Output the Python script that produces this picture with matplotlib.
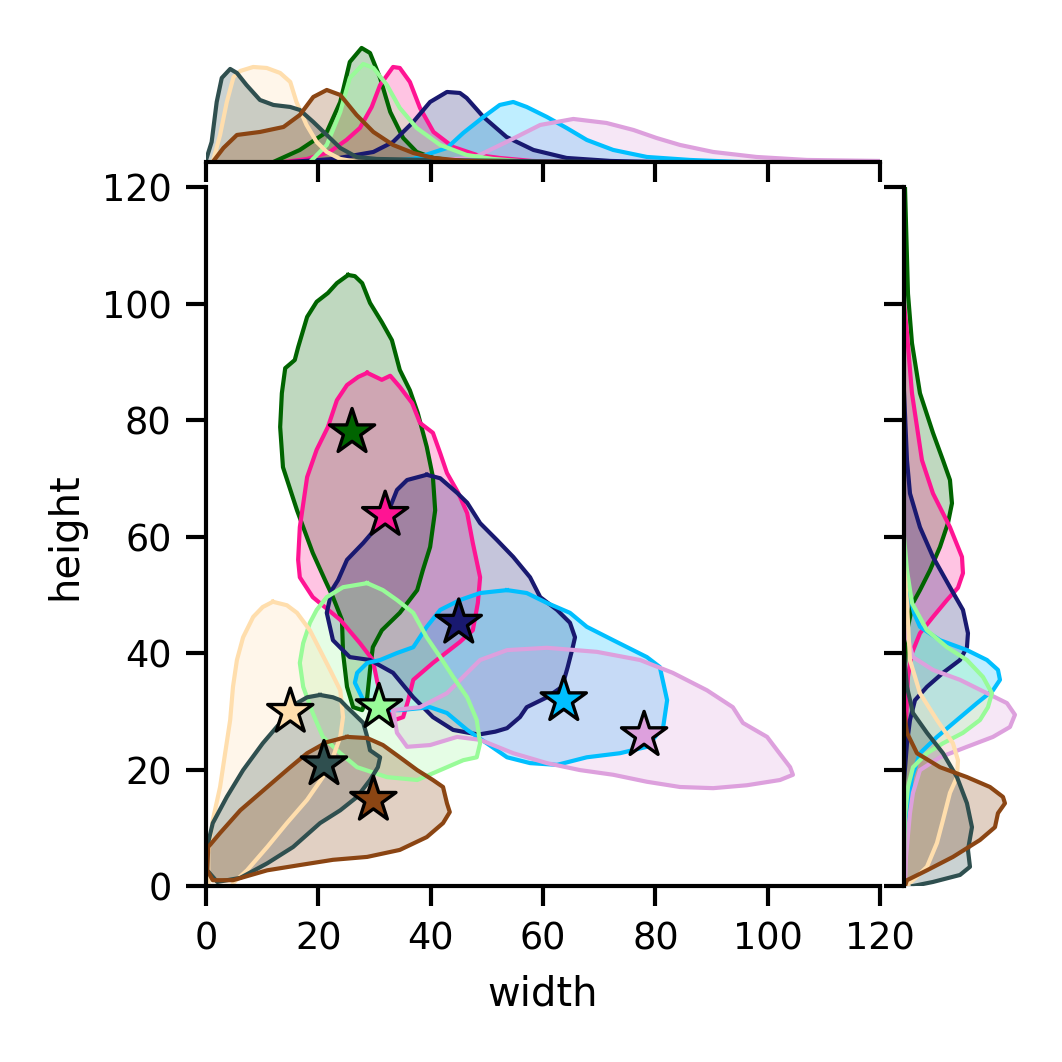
import numpy as np
import matplotlib.pyplot as plt

# groups: colour, star (centre) position
colors = ["darkgreen", "deeppink", "midnightblue", "deepskyblue", "plum",
          "palegreen", "navajowhite", "darkslategray", "saddlebrown"]
star_x = [26, 31.9, 45, 63.7, 78, 30.8, 15, 21, 29.8]
star_y = [77.9, 63.7, 45.2, 31.9, 25.9, 30.7, 29.9, 20.9, 14.8]

# outline of the density contour of each group (width, height)
contours = [
    [(25.3, 104.9), (23.3, 103.5), (21.7, 101.8), (19.7, 100.3), (18, 97.7), (16.4, 92.5), (15.8, 90.3),
     (14.1, 88.9), (13.5, 84.6), (13.2, 78.8), (13.7, 71.9), (16.2, 64.5), (19, 57.2), (21.2, 52.5),
     (22.6, 49.6), (24.2, 45.7), (24.4, 40), (25.1, 34.2), (26.2, 30.7), (27.8, 30.2), (28.7, 32.4),
     (29.2, 37.1), (29.7, 41), (31.3, 43.9), (34.5, 46.9), (37.6, 50.8), (38.6, 54.2), (39.9, 58.2),
     (40.8, 64.5), (40.4, 70.2), (39.3, 75.4), (37.7, 81.2), (36.3, 85.1), (34.5, 88.6), (33.1, 93.7),
     (31.3, 96.8), (29.2, 100.1), (27.8, 103.5), (26.5, 104.7)],
    [(28.7, 88.1), (31.3, 86.9), (32.8, 87.6), (34.5, 85.7), (36.7, 82.9), (38.1, 79.5), (40.4, 77.8),
     (41.7, 74.3), (42.9, 70.9), (44.9, 67.5), (46.5, 64.0), (47.5, 58.9), (48.8, 53.0), (48.4, 48.6),
     (47.5, 43.9), (45.2, 41.9), (40.4, 38.3), (36.9, 35.4), (36, 31.9), (35.1, 29.0), (33.6, 28.5),
     (31.8, 31), (30.5, 35), (29.7, 38.8), (27.4, 41.7), (23.9, 45.7), (19, 49.6), (16.7, 53), (16.4, 56),
     (16.7, 61.6), (18, 70.2), (19.7, 74.9), (21.7, 78.8), (23.3, 83.4), (25.1, 86), (27.1, 87.4)],
    [(39.3, 70.6), (35.8, 69.7), (34, 68), (32.8, 65.1), (30.4, 61.6), (28, 58.9), (25.1, 56), (23.5, 52.5),
     (22.4, 50.8), (21.5, 46.9), (22.6, 42.2), (25.6, 39.3), (29.2, 38.8), (33.3, 36.6), (36.9, 32.4),
     (40.4, 29), (44, 26.8), (48.5, 26), (51.5, 26.5), (53.6, 27.1), (55.9, 29), (57.1, 30.7), (60.7, 32.4),
     (63.4, 34.2), (64.4, 37.6), (65.3, 41), (65.7, 42.7), (64.8, 45.2), (62.5, 47.4), (59.5, 49.6),
     (57.7, 53), (54.7, 56.5), (51.8, 59.4), (48.8, 62.3), (46.5, 65.8), (44.7, 67.5), (41.7, 70)],
    [(53.6, 50.8), (48.8, 50.3), (45.2, 49.1), (41.7, 47.4), (39.3, 44.5), (36.9, 41), (34, 40), (31, 38.8),
     (28.7, 38.3), (26.9, 36.6), (26.5, 34.9), (28, 31.9), (31, 30.2), (34.5, 30.2), (39.9, 30.7),
     (42.9, 29.7), (46.5, 26.8), (50, 24.5), (53.6, 22.1), (57.7, 21.1), (62.5, 20.8), (67.8, 22.1),
     (73.7, 22.8), (78.5, 23.9), (81.4, 27.3), (82.1, 31.9), (80.8, 37.6), (78.5, 39.3), (72.5, 42.2),
     (67.8, 44.5), (64.8, 46.9), (60.7, 48.6), (57.1, 50.3)],
    [(33.3, 30.2), (38.1, 30.7), (42.9, 33.1), (46.5, 36.6), (48.8, 38.8), (53.6, 40.5), (60.7, 40.9),
     (69.6, 40.2), (77.3, 38.8), (83.1, 36.6), (89.2, 33.6), (93.8, 30.7), (95.6, 28), (99.9, 25.6),
     (101.7, 23.3), (104, 20.4), (104.5, 19.1), (102.2, 18.2), (96.3, 17.3), (90.3, 16.8), (84.4, 17),
     (78.5, 17.9), (72.5, 19.1), (66.6, 19.9), (60.7, 21.1), (54.7, 22.8), (48.8, 25.1), (44.7, 25.6),
     (39.9, 24.2), (35.8, 23.9), (34, 26.3)],
    [(28.7, 52), (24.4, 51.3), (21.5, 49.6), (19.7, 47.4), (18.5, 45.2), (17.3, 41.7), (16.7, 38.3),
     (17.3, 34.2), (19, 29.7), (20.8, 25.6), (23.9, 22.8), (26.9, 20.4), (32.2, 18.7), (37.6, 18.2),
     (41.7, 19.9), (45.8, 21.6), (48.2, 22.1), (48.8, 24.5), (48.2, 28.5), (46.5, 32.4), (44, 35.9),
     (41.7, 39.3), (39.3, 42.7), (36.9, 46.9), (34, 49.1), (31.5, 50.8)],
    [(11.9, 48.8), (10.1, 47.9), (8.4, 46.2), (6.6, 42.7), (5.5, 38.8), (4.8, 34.2), (4.3, 28.5), (3.4, 22.8),
     (2.5, 17), (1.2, 11.3), (0.4, 5.7), (0.4, 1.5), (0.5, -1), (4.5, -1), (4.8, 0.5), (7.3, 2.7), (10.9, 6.7),
     (14.4, 10.8), (18, 14.8), (20.8, 18.7), (22.6, 22.1), (23.9, 25.6), (24.4, 29), (23.9, 33.6),
     (22.1, 37.1), (20.3, 40.5), (18.5, 43.9), (16.2, 46.9), (14.4, 48.2)],
    [(20.3, 32.8), (18, 32.4), (16.2, 31.4), (13.2, 28), (10.1, 24.5), (6.6, 19.9), (3.7, 15.3), (1.2, 10.8),
     (0.2, 6.7), (0.2, 2.7), (2, 0.7), (6.1, 1.4), (10.9, 3.9), (15.5, 6.7), (20.3, 10.8), (23.9, 13),
     (26.9, 15.3), (29.2, 18.2), (30.6, 20.4), (31, 22.1), (29.2, 23.3), (28.7, 25.6), (28, 28), (26.2, 29.7),
     (25.1, 30.7), (23.9, 31.9), (22.6, 32.4)],
    [(25.1, 25.6), (21.5, 24.7), (18, 22.8), (15, 20.4), (10.9, 17), (6.1, 13), (2.5, 9.1), (0.4, 6.7),
     (0.2, 2.7), (1.2, 1), (4.8, 1), (10.9, 2.7), (16.7, 3.6), (22.6, 4.5), (28.7, 5), (34.5, 6.2),
     (39.3, 8.4), (42.2, 10.8), (43.4, 12.7), (42.9, 14.2), (42.2, 17), (40.4, 18.2), (37.6, 19.9),
     (34.5, 22.1), (31.5, 24.2), (28.7, 25.4)],
]

# marginal density along width (top panel)
top_x = [
    [12, 16.7, 21.5, 23.9, 25.6, 27.7, 29.2, 31, 32.8, 35.1, 37.5, 40.5, 46],
    [14, 18, 22, 25, 27.4, 29.5, 31, 33.3, 34.5, 36.3, 38.1, 40.5, 44, 48.2, 52.3, 58, 65],
    [15, 22.7, 29.8, 33.3, 36.9, 39.9, 42.9, 45.2, 46.4, 49.4, 53.5, 58.3, 64.2, 72, 80],
    [30, 36.9, 42.9, 45.8, 49.4, 52.3, 54.7, 57.1, 60.7, 64.2, 67.8, 72.5, 78.5, 86.2, 95],
    [35, 47.6, 53.5, 59.5, 65.4, 71.3, 76.1, 80.2, 84.4, 90.3, 98, 107, 120],
    [18.5, 21.5, 23.9, 25.6, 28, 29.8, 32.2, 34.5, 37.5, 41.7, 46.4, 51.1, 58],
    [1.2, 2.5, 3.7, 4.9, 6.1, 8.4, 10.8, 13.2, 15, 16.1, 17.9, 19.7, 21.5, 23.9, 27],
    [0, 1.0, 1.9, 2.8, 4.3, 5.5, 7.2, 9.6, 12, 15, 16.7, 19.1, 21.5, 23.9, 26.8, 30.4, 40, 55, 70],
    [1.2, 3.1, 5.5, 9.6, 13.8, 16.7, 19.1, 21.5, 23.9, 26.8, 29.8, 33.3, 36.9, 40.5, 46, 55],
]
top_d = [
    [0, 0.12, 0.30, 0.60, 1.00, 1.14, 1.09, 0.84, 0.50, 0.24, 0.10, 0.04, 0],
    [0, 0.03, 0.10, 0.22, 0.34, 0.55, 0.77, 0.95, 0.94, 0.80, 0.54, 0.30, 0.15, 0.07, 0.04, 0.01, 0],
    [0, 0.03, 0.10, 0.20, 0.40, 0.60, 0.70, 0.69, 0.64, 0.45, 0.25, 0.12, 0.04, 0.01, 0],
    [0, 0.03, 0.14, 0.29, 0.45, 0.57, 0.60, 0.55, 0.45, 0.34, 0.22, 0.12, 0.05, 0.02, 0],
    [0, 0.04, 0.20, 0.37, 0.43, 0.39, 0.32, 0.24, 0.17, 0.10, 0.05, 0.02, 0.01],
    [0, 0.17, 0.50, 0.84, 0.98, 0.94, 0.77, 0.54, 0.34, 0.17, 0.07, 0.03, 0],
    [0, 0.27, 0.60, 0.85, 0.91, 0.95, 0.94, 0.89, 0.80, 0.60, 0.37, 0.20, 0.10, 0.03, 0],
    [0.02, 0.20, 0.60, 0.84, 0.93, 0.89, 0.77, 0.62, 0.57, 0.55, 0.52, 0.40, 0.27, 0.14, 0.05, 0.03, 0.02, 0.01, 0],
    [0, 0.14, 0.27, 0.30, 0.35, 0.47, 0.65, 0.72, 0.67, 0.47, 0.30, 0.17, 0.09, 0.04, 0.01, 0],
]

# marginal density along height (right panel)
right_y = [
    [120, 101.7, 93.2, 84.6, 77.8, 73.1, 69.7, 65.7, 62.3, 58.2, 54.2, 50.8, 48.6, 44.5, 38, 30],
    [100, 94.9, 84.6, 73.1, 67.4, 61.6, 56.5, 53.7, 51.2, 49.1, 46.2, 43.4, 40, 35.9, 28, 20],
    [85, 73.1, 67.4, 61.6, 56.5, 51.3, 47.4, 43.4, 41, 38.8, 36.6, 34.2, 31.9, 28.5, 24.5, 18],
    [55, 46.9, 44.5, 42.2, 40.5, 38.8, 37.1, 35.4, 33.6, 31.4, 28.5, 25.6, 22.8, 18.7, 13, 6, 0],
    [45, 39.3, 37.1, 35.4, 33.1, 31.4, 29.4, 27.3, 25.6, 23.9, 22.1, 19.9, 16, 12.5, 5, 0],
    [60, 54.2, 48.6, 43.9, 41, 38.8, 35.9, 33.1, 30.7, 28.5, 26.3, 24.5, 22.8, 20.4, 17, 12, 5],
    [55, 48.6, 38.8, 33.1, 28.5, 24.5, 21.6, 18.7, 16, 11.3, 7.4, 3.3, 1, 0],
    [40, 34.2, 29.7, 26.3, 22.8, 18.7, 14.2, 10.1, 6.2, 3.3, 1.9, 0.7, 0],
    [30, 26.3, 22.8, 20.4, 18.7, 17, 15.3, 14.2, 12.5, 10.1, 7.9, 5, 2.7, 1, 0],
]
right_d = [
    [0.01, 0.04, 0.08, 0.16, 0.29, 0.39, 0.46, 0.48, 0.44, 0.36, 0.26, 0.16, 0.09, 0.04, 0.01, 0],
    [0, 0.03, 0.08, 0.18, 0.29, 0.46, 0.58, 0.59, 0.54, 0.43, 0.29, 0.16, 0.08, 0.04, 0.02, 0],
    [0, 0.03, 0.06, 0.16, 0.29, 0.46, 0.59, 0.64, 0.63, 0.56, 0.39, 0.23, 0.11, 0.06, 0.03, 0],
    [0, 0.10, 0.16, 0.36, 0.63, 0.83, 0.94, 0.96, 0.89, 0.73, 0.53, 0.33, 0.16, 0.08, 0.04, 0.01, 0],
    [0, 0.09, 0.29, 0.56, 0.83, 1.03, 1.11, 1.06, 0.89, 0.63, 0.36, 0.16, 0.09, 0.06, 0.02, 0.01],
    [0, 0.03, 0.08, 0.23, 0.43, 0.63, 0.79, 0.88, 0.84, 0.76, 0.59, 0.39, 0.23, 0.09, 0.04, 0.01, 0],
    [0, 0.03, 0.06, 0.16, 0.33, 0.49, 0.54, 0.53, 0.46, 0.39, 0.33, 0.23, 0.09, 0.02],
    [0, 0.03, 0.09, 0.23, 0.39, 0.53, 0.63, 0.68, 0.64, 0.66, 0.56, 0.29, 0.09],
    [0, 0.03, 0.13, 0.36, 0.63, 0.86, 0.99, 1.01, 0.94, 0.91, 0.76, 0.49, 0.23, 0.03, 0.01],
]

ticks = [0, 20, 40, 60, 80, 100, 120]

plt.rcParams.update({
    "font.family": "DejaVu Sans",
    "axes.linewidth": 1.0,
    "xtick.major.width": 1.0, "ytick.major.width": 1.0,
    "xtick.major.size": 4.8, "ytick.major.size": 4.8,
    "xtick.labelsize": 8.8, "ytick.labelsize": 8.8,
    "axes.labelsize": 9.6,
})

fig = plt.figure(figsize=(3.54, 3.54), dpi=300)
ax = fig.add_axes([0.194, 0.1657, 0.6346, 0.6582])
ax_top = fig.add_axes([0.194, 0.8475, 0.6346, 0.1271], sharex=ax)
ax_right = fig.add_axes([0.8512, 0.1657, 0.1271, 0.6582], sharey=ax)

for i, c in enumerate(colors):
    pts = np.array(contours[i])
    ax.fill(pts[:, 0], pts[:, 1], color=c, alpha=0.25, lw=0)
    ax.plot(np.append(pts[:, 0], pts[0, 0]), np.append(pts[:, 1], pts[0, 1]),
            color=c, lw=1.0, solid_joinstyle="round")

    ax_top.fill_between(top_x[i], 0, top_d[i], color=c, alpha=0.25, lw=0)
    ax_top.plot(top_x[i], top_d[i], color=c, lw=1.0, solid_joinstyle="round")

    ax_right.fill_betweenx(right_y[i], 0, right_d[i], color=c, alpha=0.25, lw=0)
    ax_right.plot(right_d[i], right_y[i], color=c, lw=1.0, solid_joinstyle="round")

ax.scatter(star_x, star_y, marker="*", s=130, c=colors, edgecolors="black",
           linewidths=0.8, zorder=5)

ax.set_xlim(0, 120)
ax.set_ylim(0, 120)
ax.set_xticks(ticks)
ax.set_yticks(ticks)
ax.set_xlabel("width")
ax.set_ylabel("height")
for s in ["top", "right"]:
    ax.spines[s].set_visible(False)

ax_top.set_ylim(0, 1.35)
for s in ["top", "right", "left"]:
    ax_top.spines[s].set_visible(False)
ax_top.tick_params(axis="x", labelbottom=False)
ax_top.tick_params(axis="y", left=False, labelleft=False)

ax_right.set_xlim(0, 1.35)
for s in ["top", "right", "bottom"]:
    ax_right.spines[s].set_visible(False)
ax_right.tick_params(axis="y", labelleft=False)
ax_right.tick_params(axis="x", bottom=False, labelbottom=False)

fig.savefig("out.png", dpi=300)
